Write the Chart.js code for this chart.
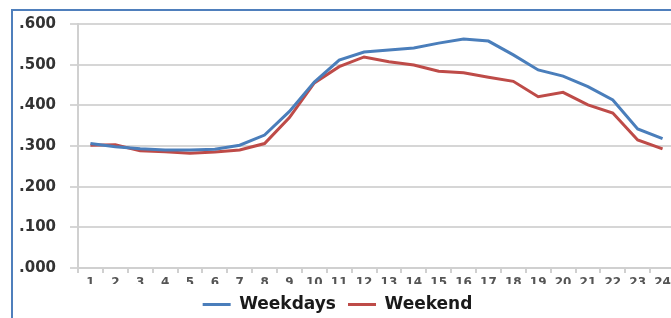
<!DOCTYPE html>
<html>
<head>
<meta charset="utf-8">
<script src="https://cdn.jsdelivr.net/npm/chart.js@4"></script>
<style>
  html, body { margin: 0; padding: 0; background: #fff; overflow: hidden; }
  #wrap { position: relative; width: 671px; height: 318px; overflow: hidden; }
  #frame { position: absolute; left: 11px; top: 9px; width: 900px; height: 400px;
           border-left: 2px solid #4f7fbc; border-top: 2px solid #4f7fbc; }
  #holder { position: absolute; left: 0; top: 0; width: 700px; height: 323px; }
</style>
</head>
<body>
<div id="wrap">
  <div id="frame"></div>
  <div id="holder"><canvas id="usageChart" width="700" height="323"></canvas></div>
</div>
<script>
// hours of the day
const hours = ['1','2','3','4','5','6','7','8','9','10','11','12',
               '13','14','15','16','17','18','19','20','21','22','23','24'];

// values
const weekdays = [0.306, 0.298, 0.293, 0.290, 0.290, 0.292, 0.302, 0.327, 0.385, 0.457,
                  0.511, 0.531, 0.536, 0.541, 0.553, 0.563, 0.558, 0.524, 0.487, 0.472,
                  0.446, 0.413, 0.342, 0.318];
const weekend = [0.302, 0.303, 0.288, 0.286, 0.282, 0.285, 0.290, 0.306, 0.370, 0.455,
                 0.495, 0.519, 0.507, 0.499, 0.484, 0.480, 0.469, 0.459, 0.421, 0.432,
                 0.401, 0.381, 0.315, 0.293];

const yTicks = [0, 0.1, 0.2, 0.3, 0.4, 0.5, 0.6];

const ctx = document.getElementById('usageChart').getContext('2d');
const usageChart = new Chart(ctx, {
    type: 'line',
    data: {
        labels: hours,
        datasets: [{
            label: 'Weekdays',
            data: weekdays,
            borderColor: '#4a7ebb',
            backgroundColor: '#4a7ebb',
            borderWidth: 3,
            pointRadius: 0,
            tension: 0
        }, {
            label: 'Weekend',
            data: weekend,
            borderColor: '#be4b48',
            backgroundColor: '#be4b48',
            borderWidth: 3,
            pointRadius: 0,
            tension: 0
        }]
    },
    options: {
        responsive: false,
        animation: false,
        layout: { padding: { top: 24, right: 25, left: 0, bottom: 0 } },
        plugins: {
            tooltip: { enabled: false },
            legend: {
                position: 'bottom',
                labels: {
                    usePointStyle: true,
                    pointStyle: 'line',
                    pointStyleWidth: 28,
                    padding: 12,
                    color: '#1a1a1a',
                    font: { family: 'DejaVu Sans', size: 17, weight: 'bold' }
                }
            }
        },
        scales: {
            x: {
                offset: true,
                grid: {
                    offset: true,
                    drawOnChartArea: false,
                    drawTicks: true,
                    tickLength: 5,
                    color: '#d0d0d0',
                    lineWidth: 2
                },
                border: { color: '#d0d0d0', width: 2 },
                ticks: {
                    color: '#555',
                    padding: 3,
                    maxRotation: 0,
                    autoSkip: false,
                    font: { family: 'DejaVu Sans', size: 12, weight: 'bold' }
                },
                afterFit: (scale) => { scale.height = 16; }
            },
            y: {
                min: 0,
                max: 0.6,
                afterBuildTicks: (scale) => { scale.ticks = yTicks.map(v => ({ value: v })); },
                grid: {
                    color: '#d6d6d6',
                    lineWidth: 2,
                    tickLength: 8
                },
                border: { color: '#d0d0d0', width: 2 },
                ticks: {
                    color: '#333',
                    padding: 14,
                    font: { family: 'DejaVu Sans', size: 15, weight: 'bold' },
                    callback: (v) => v.toFixed(3).replace(/^0/, '')
                },
                afterFit: (scale) => { scale.width = 78; }
            }
        }
    }
});
</script>
</body>
</html>
